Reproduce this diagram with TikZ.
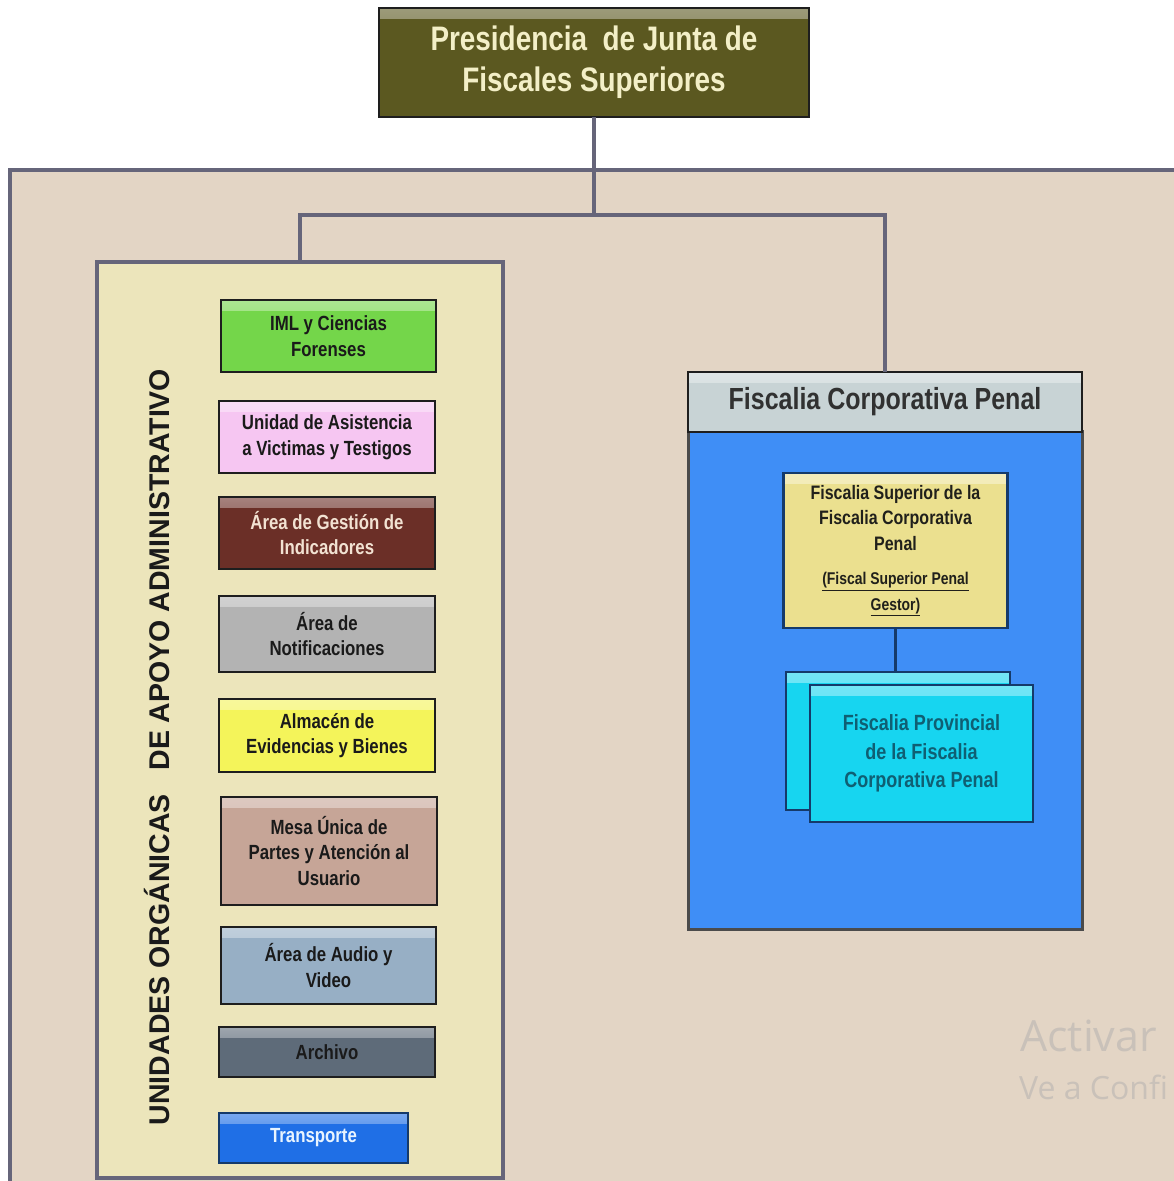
\documentclass[tikz,border=0pt]{standalone}
\usepackage{fontspec}
\setmainfont{Liberation Sans}
\newfontfamily\nf[FakeStretch=0.82]{Liberation Sans}
\newfontfamily\wmf{Open Sans}
\definecolor{bgpanel}{HTML}{E3D5C5}
\definecolor{lpanelc}{HTML}{ECE5BB}
\definecolor{linec}{HTML}{66657A}
\definecolor{boxline}{HTML}{1E1E1E}
\definecolor{txtdark}{HTML}{1A1A1A}
\definecolor{olive}{HTML}{5B5820}
\definecolor{cream}{HTML}{F3EFC7}
\definecolor{cgreen}{HTML}{74D64A}
\definecolor{cpink}{HTML}{F6C6F2}
\definecolor{cbrown}{HTML}{6B2F27}
\definecolor{cbrowntxt}{HTML}{F2E2D2}
\definecolor{cgray}{HTML}{B3B3B3}
\definecolor{cyellow}{HTML}{F4F45A}
\definecolor{ctan}{HTML}{C6A597}
\definecolor{csteel}{HTML}{97AFC5}
\definecolor{cslate}{HTML}{5E6B79}
\definecolor{cblue}{HTML}{1F6FE6}
\definecolor{cbluetxt}{HTML}{E8F4FF}
\definecolor{cheader}{HTML}{C8D3D5}
\definecolor{bluepanel}{HTML}{3F8EF6}
\definecolor{cfsup}{HTML}{EBE08F}
\definecolor{ccyan}{HTML}{17D5F0}
\definecolor{cnavy}{HTML}{153A6A}
\definecolor{cprovtxt}{HTML}{0F5F73}
\definecolor{wmark}{HTML}{C9C1B9}
\tikzset{
  conn/.style={draw=linec, line width=4pt},
  ubox/.style={draw=boxline, line width=2.6pt, fill=#1, inner sep=0pt, outer sep=0pt,
    align=center, text=txtdark, font=\nf\bfseries\fontsize{20.5}{25.5}\selectfont,
    path picture={\shade[top color=#1!60!white, bottom color=#1]
      ([yshift=-1pt]path picture bounding box.north west) rectangle
      ([yshift=-10pt]path picture bounding box.north east);}},
  cbox/.style={ubox=ccyan, draw=cnavy, text=cprovtxt,
    font=\nf\bfseries\fontsize{22}{28.5}\selectfont},
}
\begin{document}
\begin{tikzpicture}[x=1pt,y=-1pt]
\useasboundingbox (0,0) rectangle (1174,1181);
\clip (0,0) rectangle (1174,1181);
\fill[white] (0,0) rectangle (1174,1181);
% big background panel
\draw[fill=bgpanel, draw=linec, line width=4pt] (10,170) rectangle (1220,1230);

% top box
\node[ubox=olive, text=cream, minimum width=430pt, minimum height=109pt,
  font=\nf\bfseries\fontsize{34}{41}\selectfont] (pres) at (594,62.5)
  {Presidencia\ \ de Junta de\\Fiscales Superiores};
\coordinate (j) at (594,215);

% left panel
\node[draw=linec, line width=3.5pt, fill=lpanelc, minimum width=406pt, minimum height=916pt,
  inner sep=0pt, outer sep=0pt] (lpanel) at (300,720) {};
\node[rotate=90, font=\bfseries\fontsize{28.5}{30}\selectfont, text=txtdark] (ltitle) at (157,747)
  {UNIDADES ORGÁNICAS\ \ \ DE APOYO ADMINISTRATIVO};

\node[ubox=cgreen, minimum width=215pt, minimum height=72pt] (iml) at (328.5,336)
  {IML y Ciencias\\Forenses};
\node[ubox=cpink, minimum width=216pt, minimum height=72pt] (uavit) at (327,437)
  {Unidad de Asistencia\\a Victimas y Testigos};
\node[ubox=cbrown, text=cbrowntxt, minimum width=216pt, minimum height=72pt] (agi) at (327,533)
  {Área de Gestión de\\Indicadores};
\node[ubox=cgray, minimum width=216pt, minimum height=76pt] (anot) at (327,634)
  {Área de\\Notificaciones};
\node[ubox=cyellow, minimum width=216pt, minimum height=73pt] (aeb) at (327,735.5)
  {Almacén de\\Evidencias y Bienes};
\node[ubox=ctan, minimum width=216pt, minimum height=108pt] (mup) at (329,851)
  {Mesa Única de\\Partes y Atención al\\Usuario};
\node[ubox=csteel, minimum width=215pt, minimum height=77pt] (aav) at (328.5,965.5)
  {Área de Audio y\\Video};
\node[ubox=cslate, minimum width=216pt, minimum height=50pt] (arch) at (327,1052)
  {Archivo};
\node[ubox=cblue, text=cbluetxt, draw=cnavy, minimum width=189pt, minimum height=50pt] (transp) at (313.5,1138)
  {Transporte};

% right part
\node[draw=boxline!80, line width=3pt, fill=bluepanel, minimum width=394pt, minimum height=498pt,
  inner sep=0pt, outer sep=0pt] (bpanel) at (885,680) {};
\node[ubox=cheader, text=txtdark!90, minimum width=394pt, minimum height=60pt,
  font=\nf\bfseries\fontsize{30.5}{34}\selectfont] (fcp) at (885,402)
  {Fiscalia Corporativa Penal};
\node[ubox=cfsup, draw=cnavy, minimum width=224pt, minimum height=155pt,
  font=\nf\bfseries\fontsize{19.5}{25.5}\selectfont, text=txtdark!90!olive] (fsup) at (895.5,550.5)
  {Fiscalia Superior de la\\Fiscalia Corporativa\\Penal\\[9pt]
   {\fontsize{17}{21}\selectfont\underline{(Fiscal Superior Penal}}\\
   {\fontsize{17}{21}\selectfont\underline{Gestor)}}};
\node[cbox, minimum width=224pt, minimum height=138pt] (fpb) at (898,741) {};
\node[cbox, minimum width=223pt, minimum height=137pt] (fpf) at (921.5,753.5)
  {Fiscalia Provincial\\de la Fiscalia\\Corporativa Penal};

% connectors
\draw[conn] (pres.south) -- (j);
\draw[conn] (lpanel.north) |- (j) -| (fcp.north);
\draw[draw=cnavy, line width=2.5pt] (fsup.south) -- (fsup.south |- fpb.north);

% watermark
\node[anchor=base west, inner sep=0pt, text=wmark, font=\wmf\fontsize{43}{46}\selectfont] (wm1) at (1020,1051) {Activar};
\node[anchor=base west, inner sep=0pt, text=wmark, font=\wmf\fontsize{32}{36}\selectfont] (wm2) at (1019,1099) {Ve a Confi};
\end{tikzpicture}
\end{document}
